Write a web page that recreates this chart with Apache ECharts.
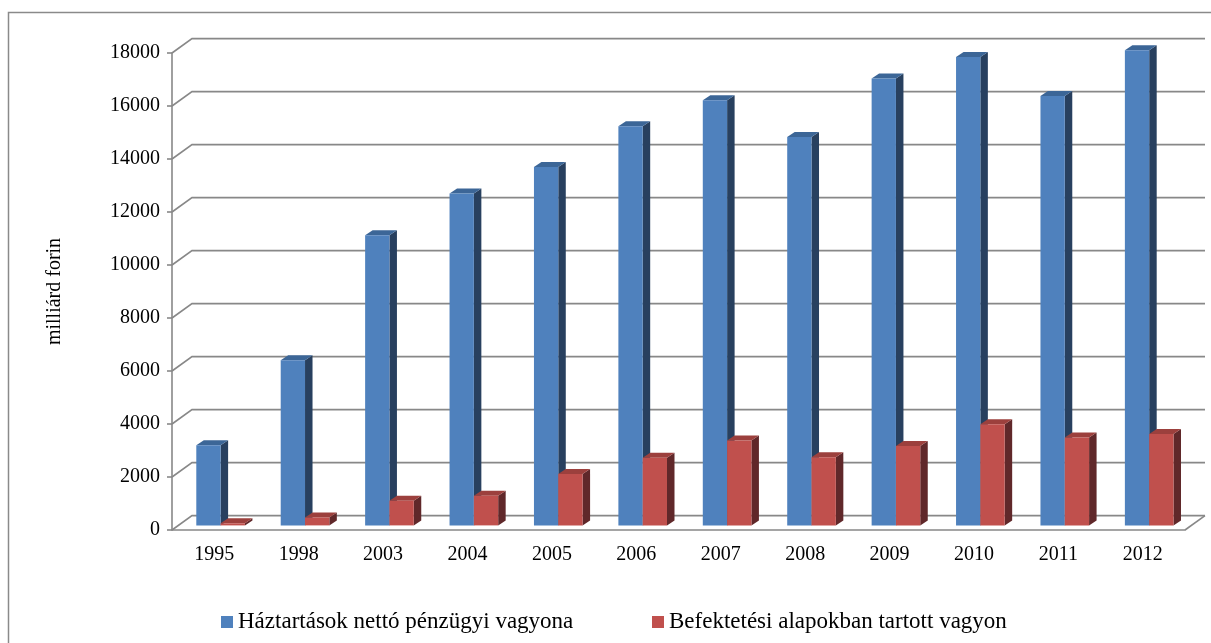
<!DOCTYPE html>
<html>
<head>
<meta charset="utf-8">
<title>Háztartások pénzügyi vagyona</title>
<script src="https://cdn.jsdelivr.net/npm/echarts@6/dist/echarts.min.js"></script>
<style>
  html, body { margin: 0; padding: 0; background: #ffffff; }
  #chart { width: 1211px; height: 643px; }
</style>
</head>
<body>
<div id="chart"></div>
<script>
// Years on the category axis
const years = ['1995', '1998', '2003', '2004', '2005', '2006', '2007', '2008', '2009', '2010', '2011', '2012'];
// Households' net financial wealth (billion HUF)
const netFinancialWealth = [3020, 6230, 10950, 12520, 13520, 15060, 16040, 14660, 16860, 17680, 16200, 17930];
// Wealth held in investment funds (billion HUF)
const investmentFundHoldings = [80, 300, 930, 1120, 1940, 2550, 3200, 2570, 3000, 3820, 3320, 3450];
// Value-axis ticks
const valueTicks = [0, 2000, 4000, 6000, 8000, 10000, 12000, 14000, 16000, 18000];

const seriesNames = ['Háztartások nettó pénzügyi vagyona', 'Befektetési alapokban tartott vagyon'];

// Pseudo-3D projection: depth of the plot box and of the columns, in pixels
const WALL_DX = 20, WALL_DY = -14.4;
const FRONT_DX = 6.4, FRONT_DY = -4.6;   // columns' front plane inside the box
const COL_DX = 7.5, COL_DY = -5;         // column depth
const COL_SHARE = 0.288;                 // column width as a share of a category slot

const GRID_COLOR = '#888888';
const FONT = '"Liberation Serif", "Times New Roman", serif';

const palettes = [
  { front: '#4F81BD', top: '#3C6697', side: '#28405F' },
  { front: '#C0504D', top: '#9C403D', side: '#60282A' }
];

function columnRenderer(slotIndex) {
  const pal = palettes[slotIndex];
  return function (params, api) {
    const cat = api.value(0);
    const val = api.value(1);
    const topPt = api.coord([cat, val]);
    const basePt = api.coord([cat, 0]);
    const bw = api.size([1, 0])[0] * COL_SHARE;
    const cx = topPt[0] + FRONT_DX;
    const x0 = slotIndex === 0 ? cx - bw : cx;
    const x1 = x0 + bw;
    const yt = topPt[1] + FRONT_DY;
    const yb = basePt[1] + FRONT_DY;
    return {
      type: 'group',
      children: [
        {
          type: 'polygon',
          shape: { points: [[x1, yt], [x1 + COL_DX, yt + COL_DY], [x1 + COL_DX, yb + COL_DY], [x1, yb]] },
          style: { fill: pal.side }
        },
        {
          type: 'polygon',
          shape: { points: [[x0, yt], [x1, yt], [x1 + COL_DX, yt + COL_DY], [x0 + COL_DX, yt + COL_DY]] },
          style: { fill: pal.top }
        },
        {
          type: 'rect',
          shape: { x: x0, y: yt, width: bw, height: yb - yt },
          style: { fill: pal.front }
        }
      ]
    };
  };
}

// Left-wall diagonals, back-wall gridlines and the floor's right edge
function wallRenderer(params, api) {
  const v = api.value(1);
  const y = api.coord([0, v])[1];
  const xl = params.coordSys.x;
  const xr = xl + params.coordSys.width;
  const children = [{
    type: 'polyline',
    shape: { points: [[xl, y], [xl + WALL_DX, y + WALL_DY], [xr + WALL_DX, y + WALL_DY]] },
    style: { stroke: GRID_COLOR, lineWidth: 1.6, fill: null }
  }];
  if (v === 0) {
    children.push({
      type: 'line',
      shape: { x1: xr, y1: y, x2: xr + WALL_DX, y2: y + WALL_DY },
      style: { stroke: GRID_COLOR, lineWidth: 1.6 }
    });
  }
  return { type: 'group', children: children };
}

const chart = echarts.init(document.getElementById('chart'), null, { renderer: 'canvas' });

const legendText = { fontFamily: FONT, fontSize: 23, color: '#000', lineHeight: 24 };

chart.setOption({
  backgroundColor: '#ffffff',
  animation: false,
  textStyle: { fontFamily: FONT, color: '#000000' },
  graphic: [{
    type: 'rect',
    shape: { x: 8.5, y: 12.5, width: 1220, height: 650 },
    style: { fill: null, stroke: '#8a8a8a', lineWidth: 1.5 },
    z: 0
  }],
  grid: { left: 172, right: 26, top: 53, bottom: 113 },
  xAxis: {
    type: 'category',
    data: years,
    boundaryGap: true,
    axisLine: { lineStyle: { color: GRID_COLOR, width: 1.6 } },
    axisTick: { length: 5, lineStyle: { color: GRID_COLOR, width: 1.6 } },
    axisLabel: { fontFamily: FONT, fontSize: 20, color: '#000', margin: 15 },
    splitLine: { show: false }
  },
  yAxis: {
    type: 'value',
    min: 0,
    max: 18000,
    interval: 2000,
    name: 'milliárd forin',
    nameLocation: 'middle',
    nameRotate: 90,
    nameGap: 107,
    nameTextStyle: { fontFamily: FONT, fontSize: 20, color: '#000' },
    axisLine: { show: true, lineStyle: { color: GRID_COLOR, width: 1.6 } },
    axisTick: { show: true, length: 5, lineStyle: { color: GRID_COLOR, width: 1.6 } },
    axisLabel: {
      fontFamily: FONT, fontSize: 20, color: '#000', margin: 12,
      formatter: function (v) { return String(v); }
    },
    splitLine: { show: false }
  },
  legend: [
    {
      data: [seriesNames[0]],
      left: 221, top: 610, padding: 0,
      icon: 'rect', itemWidth: 12, itemHeight: 12,
      textStyle: legendText
    },
    {
      data: [seriesNames[1]],
      left: 652, top: 610, padding: 0,
      icon: 'rect', itemWidth: 12, itemHeight: 12,
      textStyle: legendText
    }
  ],
  series: [
    {
      name: 'walls',
      type: 'custom',
      renderItem: wallRenderer,
      data: valueTicks.map(function (v) { return [0, v]; }),
      encode: { x: 0, y: 1 },
      clip: false,
      silent: true,
      z: 1
    },
    {
      name: seriesNames[0],
      type: 'custom',
      renderItem: columnRenderer(0),
      data: netFinancialWealth.map(function (v, i) { return [i, v]; }),
      encode: { x: 0, y: 1 },
      itemStyle: { color: palettes[0].front },
      clip: false,
      z: 2
    },
    {
      name: seriesNames[1],
      type: 'custom',
      renderItem: columnRenderer(1),
      data: investmentFundHoldings.map(function (v, i) { return [i, v]; }),
      encode: { x: 0, y: 1 },
      itemStyle: { color: palettes[1].front },
      clip: false,
      z: 3
    }
  ]
});
</script>
</body>
</html>
